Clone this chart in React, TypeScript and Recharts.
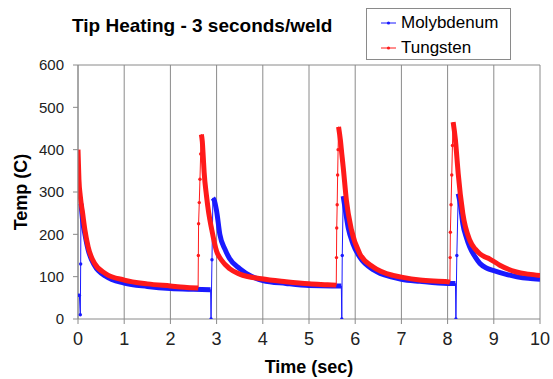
import React from "react"
import {
  LineChart,
  Line,
  XAxis,
  YAxis,
  CartesianGrid,
  ReferenceLine,
  Legend,
} from "recharts"

// Molybdenum readings (time in s, temp in C); seg 1 = dense marker band, 0 = sparse jump point
const moTime = [
  0, 0.03, 0.05, 0.058, 0.065, 0.08, 0.1, 0.15, 0.22, 0.36, 0.6, 1.0, 1.5, 2.0, 2.5, 2.87,
  2.88, 2.9, 2.92, 2.95, 3.0, 3.07, 3.18, 3.28, 3.5, 3.75, 4.0, 4.5, 5.0, 5.5, 5.7,
  5.71, 5.72, 5.74, 5.78, 5.85, 5.95, 6.1, 6.4, 6.8, 7.0, 7.4, 8.0, 8.17,
  8.18, 8.2, 8.23, 8.28, 8.33, 8.4, 8.48, 8.6, 8.7, 8.85, 9.0, 9.25, 9.5, 9.75, 10,
]
const moTemp = [
  56, 56, 10, 130, 272, 255, 232, 200, 163, 126, 101, 85, 77, 72, 70, 69,
  0, 140, 286, 280, 255, 200, 165, 143, 119, 101, 91, 84, 79, 78, 78,
  0, 150, 290, 262, 215, 178, 146, 116, 99, 94, 89, 84, 84,
  0, 150, 296, 268, 225, 195, 170, 146, 131, 120, 114, 106, 100, 96, 94,
]
const moSeg = [
  0, 0, 0, 0, 1, 1, 1, 1, 1, 1, 1, 1, 1, 1, 1, 1,
  0, 0, 1, 1, 1, 1, 1, 1, 1, 1, 1, 1, 1, 1, 1,
  0, 0, 1, 1, 1, 1, 1, 1, 1, 1, 1, 1, 1,
  0, 0, 1, 1, 1, 1, 1, 1, 1, 1, 1, 1, 1, 1, 1,
]

// Tungsten readings
const wTime = [
  0, 0.02, 0.05, 0.1, 0.15, 0.22, 0.36, 0.6, 1.0, 1.5, 2.0, 2.3, 2.6,
  2.605, 2.61, 2.625, 2.64, 2.655, 2.67, 2.69, 2.71, 2.73, 2.78, 2.83, 2.89, 3.0, 3.1, 3.28, 3.5, 3.97, 4.5, 5.0, 5.4, 5.59,
  5.595, 5.6, 5.61, 5.62, 5.63, 5.64, 5.68, 5.71, 5.74, 5.81, 5.92, 6.1, 6.39, 6.82, 7.0, 7.4, 8.0, 8.05,
  8.055, 8.06, 8.075, 8.09, 8.105, 8.12, 8.17, 8.2, 8.23, 8.33, 8.48, 8.6, 8.7, 8.8, 8.91, 9.13, 9.49, 9.75, 10,
]
const wTemp = [
  400, 330, 290, 250, 210, 170, 131, 107, 92, 83, 78, 75, 73,
  150, 225, 275, 330, 390, 436, 420, 385, 347, 292, 250, 214, 160, 140, 119, 106, 95, 88, 83, 81, 80,
  145, 215, 270, 340, 400, 454, 422, 390, 359, 280, 210, 154, 123, 103, 99, 92, 88, 87,
  145, 205, 270, 340, 410, 465, 422, 383, 343, 249, 186, 165, 154, 147, 142, 127, 111, 106, 103,
]
const wSeg = [
  1, 1, 1, 1, 1, 1, 1, 1, 1, 1, 1, 1, 1,
  0, 0, 0, 0, 0, 1, 1, 1, 1, 1, 1, 1, 1, 1, 1, 1, 1, 1, 1, 1, 1,
  0, 0, 0, 0, 0, 1, 1, 1, 1, 1, 1, 1, 1, 1, 1, 1, 1, 1,
  0, 0, 0, 0, 0, 1, 1, 1, 1, 1, 1, 1, 1, 1, 1, 1, 1, 1, 1,
]

const xTicks = [0, 1, 2, 3, 4, 5, 6, 7, 8, 9, 10]
const yTicks = [0, 100, 200, 300, 400, 500, 600]

const BLUE = "#1a1aff"
const RED = "#ff1a1a"
const FONT = '"Liberation Sans", Arial, sans-serif'

const build = (time: number[], temp: number[], seg: number[]) =>
  time.map((t, i) => ({ t, temp: temp[i], band: seg[i] ? temp[i] : null, seg: seg[i] }))

const moData = build(moTime, moTemp, moSeg)
const wData = build(wTime, wTemp, wSeg)

const jumpDot = (color: string) => (props: any) => {
  const { cx, cy, payload, index } = props
  if (payload.seg || cx == null || cy == null) return <g key={`d-${index}`} />
  return <circle key={`d-${index}`} cx={cx} cy={cy} r={1.7} fill={color} />
}

const LegendBox = () => (
  <div
    style={{
      width: 145,
      height: 52,
      boxSizing: "border-box",
      border: "1px solid #8a8a8a",
      background: "#fff",
      paddingTop: 1,
      fontFamily: FONT,
      fontSize: 17,
      color: "#000",
    }}
  >
    {[
      { name: "Molybdenum", color: BLUE },
      { name: "Tungsten", color: RED },
    ].map((item) => (
      <div key={item.name} style={{ display: "flex", alignItems: "center", height: 25, lineHeight: "25px" }}>
        <svg width={34} height={25} style={{ flex: "none" }}>
          <line x1={14} x2={29} y1={13} y2={13} stroke={item.color} strokeWidth={1} />
          <circle cx={21.5} cy={13} r={1.6} fill={item.color} />
        </svg>
        <span>{item.name}</span>
      </div>
    ))}
  </div>
)

export default function App() {
  return (
    <div style={{ position: "absolute", left: 0, top: 0, width: 553, height: 379, background: "#fff" }}>
      <div
        style={{
          position: "absolute",
          left: 72,
          top: 15,
          fontFamily: FONT,
          fontWeight: "bold",
          fontSize: 19,
          lineHeight: "22px",
          color: "#000",
          whiteSpace: "nowrap",
        }}
      >
        Tip Heating - 3 seconds/weld
      </div>
      <LineChart width={553} height={379} margin={{ top: 65, right: 13, bottom: 0, left: 0 }}>
        <CartesianGrid horizontal={false} stroke="#8a8a8a" />
        <ReferenceLine y={600} stroke="#8a8a8a" />
        <XAxis
          type="number"
          dataKey="t"
          domain={[0, 10]}
          ticks={xTicks}
          allowDataOverflow
          height={60}
          tickSize={5}
          tickMargin={8}
          axisLine={{ stroke: "#8a8a8a" }}
          tickLine={{ stroke: "#8a8a8a" }}
          tick={{ fill: "#222", fontSize: 18, fontFamily: FONT }}
          label={{
            value: "Time (sec)",
            position: "insideBottom",
            offset: 6,
            style: { fontFamily: FONT, fontWeight: "bold", fontSize: 18, fill: "#000" },
          }}
        />
        <YAxis
          type="number"
          domain={[0, 600]}
          ticks={yTicks}
          allowDataOverflow
          width={78}
          tickSize={5}
          tickMargin={9}
          axisLine={{ stroke: "#8a8a8a" }}
          tickLine={{ stroke: "#8a8a8a" }}
          tick={{ fill: "#222", fontSize: 15, fontFamily: FONT }}
          label={{
            value: "Temp (C)",
            angle: -90,
            position: "insideLeft",
            offset: 21,
            style: { textAnchor: "middle", fontFamily: FONT, fontWeight: "bold", fontSize: 18, fill: "#000" },
          }}
        />
        <Legend
          layout="vertical"
          align="center"
          verticalAlign="middle"
          content={() => <LegendBox />}
          wrapperStyle={{ left: 366, top: 8, width: 145 }}
        />
        <Line
          data={moData}
          dataKey="temp"
          name="Molybdenum"
          stroke={BLUE}
          strokeWidth={1}
          dot={jumpDot(BLUE)}
          connectNulls
          isAnimationActive={false}
          legendType="none"
        />
        <Line
          data={moData}
          dataKey="band"
          type="monotone"
          stroke={BLUE}
          strokeWidth={5}
          dot={false}
          isAnimationActive={false}
          legendType="none"
        />
        <Line
          data={wData}
          dataKey="temp"
          name="Tungsten"
          stroke={RED}
          strokeWidth={1}
          dot={jumpDot(RED)}
          connectNulls
          isAnimationActive={false}
          legendType="none"
        />
        <Line
          data={wData}
          dataKey="band"
          type="monotone"
          stroke={RED}
          strokeWidth={5}
          dot={false}
          isAnimationActive={false}
          legendType="none"
        />
      </LineChart>
    </div>
  )
}
